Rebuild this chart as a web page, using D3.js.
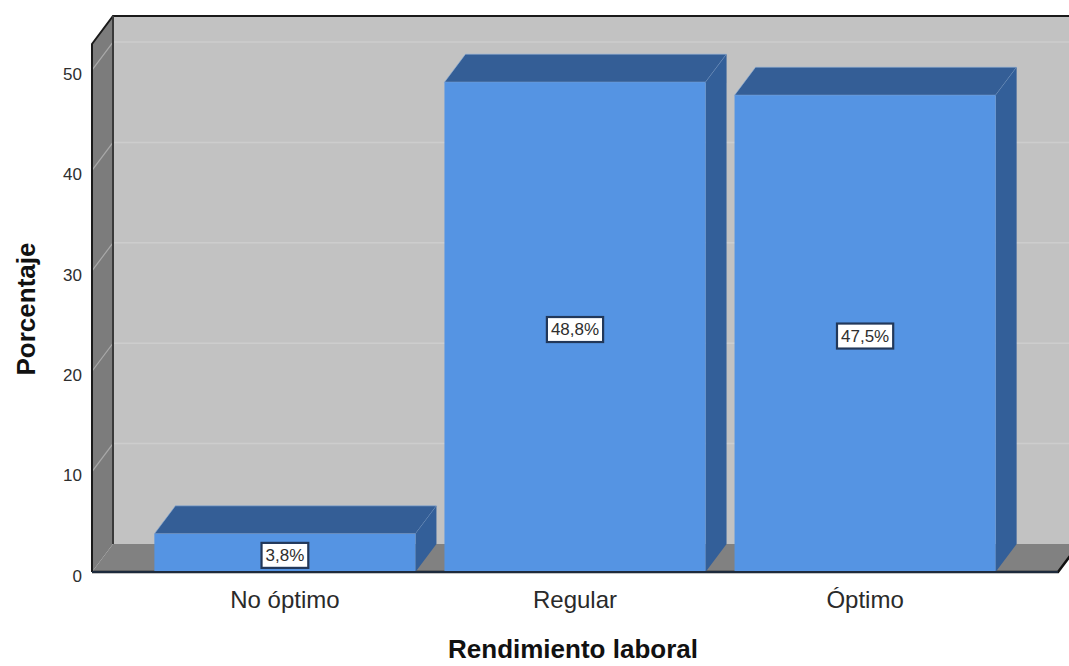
<!DOCTYPE html>
<html>
<head>
<meta charset="utf-8">
<script src="https://cdn.jsdelivr.net/npm/d3@7"></script>
<style>
  html, body { margin: 0; padding: 0; background: #ffffff; }
  svg { display: block; }
</style>
</head>
<body>
<svg id="chart" width="1069" height="666"></svg>
<script>
// Rendimiento laboral — porcentaje por categoría
const categories = ["No óptimo", "Regular", "Óptimo"];
const percentages = [3.8, 48.8, 47.5];
const valueLabels = ["3,8%", "48,8%", "47,5%"];
const yTicks = [0, 10, 20, 30, 40, 50];

const W = 1069, H = 666;
const DX = 21, DY = -28;          // depth offset of the 3D box
const svg = d3.select("#chart");

const x = d3.scaleBand()
  .domain(categories)
  .range([92, 1058])
  .paddingInner(0.1)
  .paddingOuter(0.215);

const y = d3.scaleLinear().domain([0, 52.6]).range([572, 44]);

const poly = pts => "M" + pts.map(p => p.join(",")).join("L") + "Z";

const x0 = x.range()[0], x1 = x.range()[1];
const yBase = y(0), yTop = y.range()[1];

// back wall
svg.append("path")
  .attr("d", poly([[x0 + DX, yTop + DY], [x1 + DX + 30, yTop + DY], [x1 + DX + 30, yBase + DY], [x0 + DX, yBase + DY]]))
  .attr("fill", "#c2c2c2");

// back wall gridlines
svg.append("g").selectAll("line")
  .data(yTicks.filter(d => d > 0))
  .join("line")
  .attr("x1", x0 + DX).attr("x2", W)
  .attr("y1", d => y(d) + DY).attr("y2", d => y(d) + DY)
  .attr("stroke", "#cdcdcd").attr("stroke-width", 1.5);

// left side wall
svg.append("path")
  .attr("d", poly([[x0, yTop], [x0 + DX, yTop + DY], [x0 + DX, yBase + DY], [x0, yBase]]))
  .attr("fill", "#7c7c7c");

svg.append("g").selectAll("line")
  .data(yTicks.filter(d => d > 0))
  .join("line")
  .attr("x1", x0).attr("x2", x0 + DX)
  .attr("y1", d => y(d)).attr("y2", d => y(d) + DY)
  .attr("stroke", "#a9a9a9").attr("stroke-width", 1.2);

// floor
svg.append("path")
  .attr("d", poly([[x0, yBase], [x0 + DX, yBase + DY], [x1 + DX, yBase + DY], [x1, yBase]]))
  .attr("fill", "#818181");

// box edges
svg.append("path")
  .attr("d", `M${x0},${yBase}L${x0},${yTop}L${x0 + DX},${yTop + DY}L${W},${yTop + DY}`)
  .attr("fill", "none").attr("stroke", "#1a1a1a").attr("stroke-width", 2);
svg.append("line")
  .attr("x1", x0 + DX).attr("x2", x0 + DX)
  .attr("y1", yTop + DY).attr("y2", yBase + DY)
  .attr("stroke", "#3a3a3a").attr("stroke-width", 2);
svg.append("path")
  .attr("d", `M${x0},${yBase}L${x1},${yBase}L${x1 + DX},${yBase + DY}`)
  .attr("fill", "none").attr("stroke", "#111").attr("stroke-width", 2.5);

// bars
const bars = svg.append("g").selectAll("g")
  .data(categories.map((c, i) => ({ c, v: percentages[i], label: valueLabels[i] })))
  .join("g");

bars.append("path") // top face
  .attr("d", d => {
    const l = x(d.c), r = l + x.bandwidth(), t = y(d.v);
    return poly([[l, t], [l + DX, t + DY], [r + DX, t + DY], [r, t]]);
  })
  .attr("fill", "#345e96").attr("stroke", "#8fb0d8").attr("stroke-width", 0.6);

bars.append("path") // side face
  .attr("d", d => {
    const r = x(d.c) + x.bandwidth(), t = y(d.v);
    return poly([[r, t], [r + DX, t + DY], [r + DX, yBase + DY], [r, yBase]]);
  })
  .attr("fill", "#335f99");

bars.append("rect") // front face
  .attr("x", d => x(d.c))
  .attr("y", d => y(d.v))
  .attr("width", x.bandwidth())
  .attr("height", d => yBase - y(d.v))
  .attr("fill", "#5594e3");

svg.append("line")
  .attr("x1", x0).attr("x2", x1).attr("y1", yBase).attr("y2", yBase)
  .attr("stroke", "#1d2a3c").attr("stroke-width", 2);

// value labels
const lab = bars.append("g")
  .attr("transform", d => `translate(${x(d.c) + x.bandwidth() / 2},${(y(d.v) + yBase) / 2 + 2})`);
lab.append("text")
  .attr("text-anchor", "middle")
  .attr("dy", "0.35em")
  .attr("font-family", "Liberation Sans, Arial, sans-serif")
  .attr("font-size", 17)
  .attr("fill", "#2e2e2e")
  .text(d => d.label)
  .each(function () {
    const b = this.getBBox();
    d3.select(this.parentNode).insert("rect", "text")
      .attr("x", b.x - 4).attr("y", b.y - 3)
      .attr("width", b.width + 8).attr("height", b.height + 6)
      .attr("fill", "#ffffff").attr("stroke", "#22385a").attr("stroke-width", 2.2);
  });

// y axis labels
const yAxis = svg.append("g")
  .attr("transform", `translate(${x0},0)`)
  .call(d3.axisLeft(y).tickValues(yTicks).tickSize(0).tickPadding(10));
yAxis.select(".domain").remove();
yAxis.selectAll("text")
  .attr("font-family", "Liberation Sans, Arial, sans-serif")
  .attr("font-size", 17).attr("fill", "#2e2e2e").attr("dy", "0.55em");

// category labels
const xAxis = svg.append("g")
  .attr("transform", `translate(0,${yBase})`)
  .call(d3.axisBottom(x).tickSize(0).tickPadding(19));
xAxis.select(".domain").remove();
xAxis.selectAll("text")
  .attr("font-family", "Liberation Sans, Arial, sans-serif")
  .attr("font-size", 24).attr("fill", "#2a2a2a");

// axis titles
svg.append("text")
  .attr("x", 573).attr("y", 658)
  .attr("text-anchor", "middle")
  .attr("font-family", "Liberation Sans, Arial, sans-serif")
  .attr("font-weight", "bold").attr("font-size", 26).attr("fill", "#111")
  .text("Rendimiento laboral");

svg.append("text")
  .attr("transform", "translate(35,309) rotate(-90)")
  .attr("text-anchor", "middle")
  .attr("font-family", "Liberation Sans, Arial, sans-serif")
  .attr("font-weight", "bold").attr("font-size", 26).attr("fill", "#111")
  .text("Porcentaje");
</script>
</body>
</html>
